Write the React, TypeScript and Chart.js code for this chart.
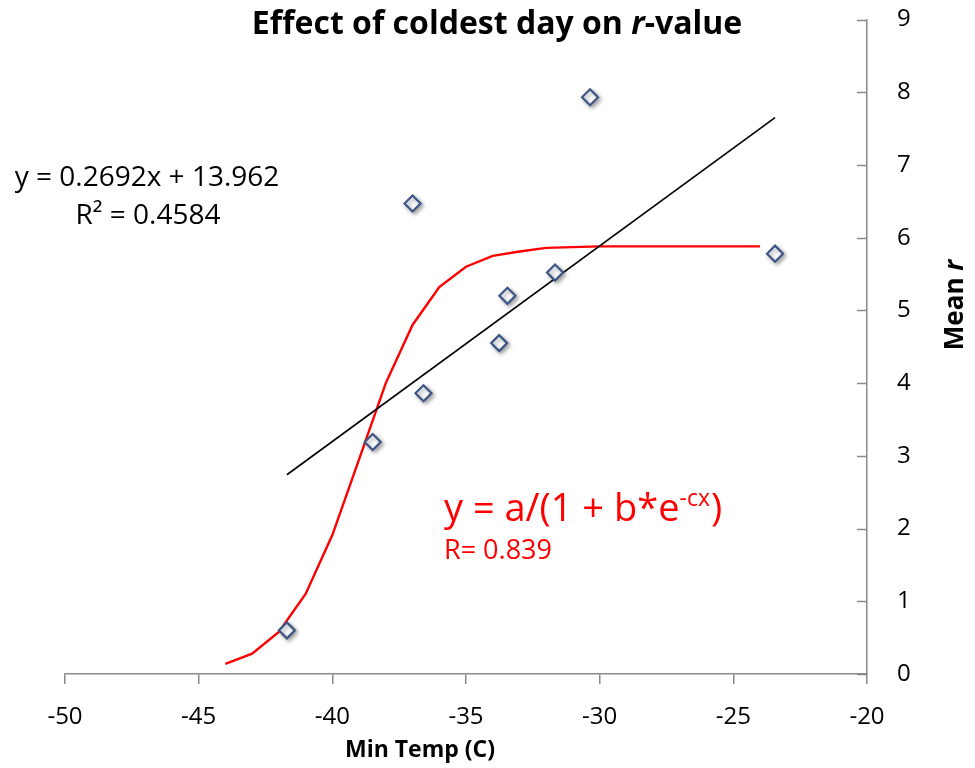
import React, { useEffect, useRef } from "react";
import { Chart, registerables } from "chart.js";

Chart.register(...registerables);

// Observed points: coldest day (°C) vs mean r
const tempX = [-41.7, -38.49, -37.0, -36.59, -33.76, -33.45, -31.67, -30.36, -23.44];
const meanR = [0.6, 3.19, 6.47, 3.86, 4.55, 5.2, 5.52, 7.93, 5.78];

// Linear trendline endpoints (y = 0.2692x + 13.962)
const trendX = [-41.7, -23.44];
const trendY = [2.74, 7.65];

// Logistic fit curve
const curveX = [-44, -43, -42, -41, -40, -39, -38, -37, -36, -35, -34, -33, -32, -31, -30, -29, -28, -27, -26, -25, -24];
const curveY = [0.14, 0.28, 0.58, 1.1, 1.91, 2.95, 4.0, 4.8, 5.32, 5.6, 5.75, 5.81, 5.86, 5.87, 5.88, 5.88, 5.88, 5.88, 5.88, 5.88, 5.88];

const xTicks = [-50, -45, -40, -35, -30, -25, -20];
const yTicks = [0, 1, 2, 3, 4, 5, 6, 7, 8, 9];

const chartTitle = ["Effect of coldest day on ", "r", "-value"];
const xTitle = "Min Temp (C)";
const yTitle = ["Mean ", "r"];
const linEq = "y = 0.2692x + 13.962";
const linR2 = "R² = 0.4584";
const logEqMain = "y = a/(1 + b*e";
const logEqSup = "-cx";
const logEqEnd = ")";
const logR = "R= 0.839";

const FONT = "'Open Sans', 'Liberation Sans', sans-serif";
const AXIS_COLOR = "#8a8a8a";

type Seg = { t: string; italic?: boolean; sup?: boolean };

function drawSegs(ctx: CanvasRenderingContext2D, segs: Seg[], cx: number, cy: number, size: number, weight: string, color: string) {
  const fontFor = (s: Seg) => `${s.italic ? "italic " : ""}${weight} ${s.sup ? Math.round(size * 0.65) : size}px ${FONT}`;
  let total = 0;
  const widths = segs.map((s) => {
    ctx.font = fontFor(s);
    const w = ctx.measureText(s.t).width;
    total += w;
    return w;
  });
  let x = cx - total / 2;
  ctx.fillStyle = color;
  ctx.textBaseline = "middle";
  ctx.textAlign = "left";
  segs.forEach((s, i) => {
    ctx.font = fontFor(s);
    ctx.fillText(s.t, x, s.sup ? cy - size * 0.35 : cy);
    x += widths[i];
  });
}

const annotPlugin = {
  id: "annot",
  afterDraw(chart: any) {
    const ctx: CanvasRenderingContext2D = chart.ctx;
    const y = chart.scales.y;
    const ca = chart.chartArea;
    ctx.save();
    // inside tick marks for right y axis
    ctx.strokeStyle = AXIS_COLOR;
    ctx.lineWidth = 1.5;
    yTicks.forEach((v) => {
      const py = Math.round(y.getPixelForValue(v)) + 0.5;
      ctx.beginPath();
      ctx.moveTo(ca.right - 10, py);
      ctx.lineTo(ca.right, py);
      ctx.stroke();
    });
    // chart title
    drawSegs(ctx, [{ t: chartTitle[0] }, { t: chartTitle[1], italic: true }, { t: chartTitle[2] }], 497, 25, 32, "bold", "#000");
    // x title
    drawSegs(ctx, [{ t: xTitle }], 420, 750, 23, "bold", "#000");
    // y title rotated
    ctx.save();
    ctx.translate(956, 305);
    ctx.rotate(-Math.PI / 2);
    drawSegs(ctx, [{ t: yTitle[0] }, { t: yTitle[1], italic: true }], 0, 0, 26, "bold", "#000");
    ctx.restore();
    // linear equation
    drawSegs(ctx, [{ t: linEq }], 147, 178, 28, "normal", "#000");
    drawSegs(ctx, [{ t: linR2 }], 148, 216, 28, "normal", "#000");
    ctx.restore();
    // logistic equation
    ctx.save();
    const size = 38;
    ctx.font = `normal ${size}px ${FONT}`;
    ctx.fillStyle = "#ff0000";
    ctx.textBaseline = "middle";
    ctx.textAlign = "left";
    let x = 444;
    ctx.fillText(logEqMain, x, 510);
    x += ctx.measureText(logEqMain).width;
    ctx.font = `normal ${Math.round(size * 0.6)}px ${FONT}`;
    ctx.fillText(logEqSup, x, 499);
    x += ctx.measureText(logEqSup).width + 1;
    ctx.font = `normal ${size}px ${FONT}`;
    ctx.fillText(logEqEnd, x, 510);
    ctx.font = `normal 27px ${FONT}`;
    ctx.fillText(logR, 444, 551);
    ctx.restore();
  },
};

const shadowPlugin = {
  id: "markerShadow",
  beforeDatasetDraw(chart: any, args: any) {
    if (args.index === 0) {
      const ctx = chart.ctx;
      ctx.save();
      ctx.shadowColor = "rgba(0,0,0,0.35)";
      ctx.shadowBlur = 4;
      ctx.shadowOffsetX = 2;
      ctx.shadowOffsetY = 2;
    }
  },
  afterDatasetDraw(chart: any, args: any) {
    if (args.index === 0) chart.ctx.restore();
  },
};

export default function App() {
  const ref = useRef<HTMLCanvasElement | null>(null);
  useEffect(() => {
    if (!ref.current) return;
    const chart = new Chart(ref.current, {
      type: "scatter",
      data: {
        datasets: [
          {
            label: "Mean r",
            data: tempX.map((x, i) => ({ x, y: meanR[i] })),
            showLine: false,
            pointStyle: "rectRot",
            pointRadius: 8,
            pointBorderWidth: 2.2,
            pointBorderColor: "#3d5686",
            pointBackgroundColor: "#ffffff",
          },
          {
            label: "Linear",
            data: trendX.map((x, i) => ({ x, y: trendY[i] })),
            showLine: true,
            pointRadius: 0,
            borderColor: "#000000",
            borderWidth: 1.6,
          },
          {
            label: "Logistic",
            data: curveX.map((x, i) => ({ x, y: curveY[i] })),
            showLine: true,
            pointRadius: 0,
            borderColor: "#ff0000",
            borderWidth: 2.4,
            tension: 0,
          },
        ],
      },
      options: {
        responsive: false,
        animation: false,
        layout: { padding: { left: 65, top: 19.5, right: 0, bottom: 0 } },
        plugins: {
          legend: { display: false },
          title: { display: false },
          tooltip: { enabled: false },
        },
        scales: {
          x: {
            type: "linear",
            position: "bottom",
            min: -50,
            max: -20,
            afterBuildTicks: (s: any) => {
              s.ticks = xTicks.map((v) => ({ value: v }));
            },
            afterFit: (s: any) => {
              s.height = 94;
              s.paddingLeft = 0;
              s.paddingRight = 0;
            },
            grid: { drawOnChartArea: false, drawTicks: true, tickLength: 10, color: AXIS_COLOR, lineWidth: 1.5 },
            border: { display: true, color: AXIS_COLOR, width: 1.5 },
            ticks: { color: "#000", font: { family: FONT, size: 24 }, padding: 19, maxRotation: 0 },
          },
          y: {
            type: "linear",
            position: "right",
            min: 0,
            max: 9,
            afterBuildTicks: (s: any) => {
              s.ticks = yTicks.map((v) => ({ value: v }));
            },
            afterFit: (s: any) => {
              s.width = 108;
              s.paddingTop = 0;
              s.paddingBottom = 0;
            },
            grid: { drawOnChartArea: false, drawTicks: false, color: AXIS_COLOR },
            border: { display: true, color: AXIS_COLOR, width: 1.5 },
            ticks: { color: "#000", font: { family: FONT, size: 24 }, padding: 30 },
          },
        },
      },
      plugins: [shadowPlugin, annotPlugin],
    });
    return () => chart.destroy();
  }, []);
  return (
    <div style={{ position: "absolute", left: 0, top: 0, width: 975, height: 768, background: "#fff" }}>
      <canvas ref={ref} width={975} height={768} style={{ display: "block" }} />
    </div>
  );
}
